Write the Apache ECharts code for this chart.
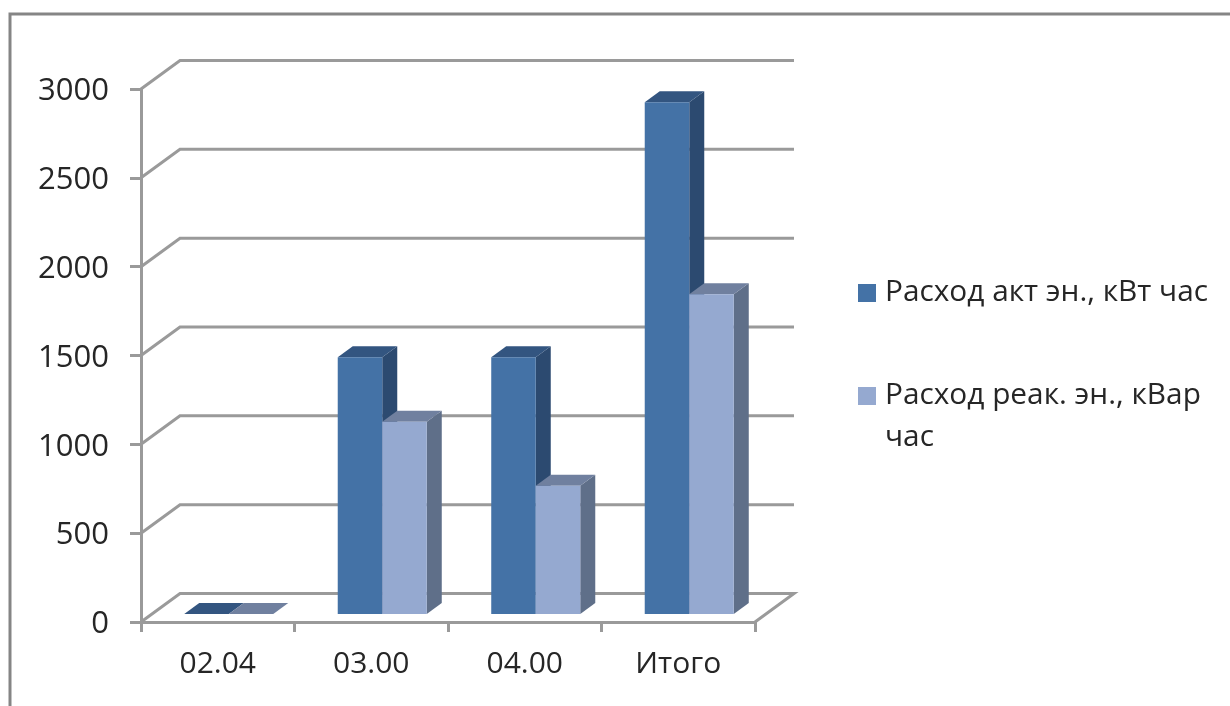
<!DOCTYPE html>
<html>
<head>
<meta charset="utf-8">
<title>Расход энергии</title>
<style>
html, body { margin: 0; padding: 0; background: #fff; }
#chart { width: 1230px; height: 706px; }
</style>
<script src="https://cdn.jsdelivr.net/npm/echarts@6/dist/echarts.min.js"></script>
</head>
<body>
<div id="chart"></div>
<script>
var categories = ['02.04', '03.00', '04.00', 'Итого'];
var yTicks = [0, 500, 1000, 1500, 2000, 2500, 3000];
var seriesNames = ['Расход акт эн., кВт час', 'Расход реак. эн., кВар час'];
var activeValues = [0, 1445, 1445, 2880];
var reactiveValues = [0, 1082, 722, 1800];

var FONT = '"Open Sans", sans-serif';
var TEXT = '#262626';
var LINE = '#9a9a9a';

// псевдо-3D: сдвиги граней в пикселях
var wallDx = 39, wallDy = 28.5;
var baseDx = 11, baseDy = 8;
var depthDx = 15, depthDy = 11;
var barPart = 0.29; // ширина столбика в долях категории

function wallItem(params, api) {
    var box = params.coordSys;
    var y = api.coord([0, api.value(1)])[1];
    var left = box.x, right = box.x + box.width;
    var pts = [[left, y], [left + wallDx, y - wallDy], [right + wallDx, y - wallDy]];
    if (params.dataIndex === 0) pts.push([right, y]);
    return {
        type: 'polyline',
        shape: { points: pts },
        style: { fill: null, stroke: LINE, lineWidth: 3 }
    };
}

function barRender(slot, front, top, side) {
    return function (params, api) {
        var w = api.size([1, 0])[0] * barPart;
        var p = api.coord([api.value(0), api.value(1)]);
        var x0 = p[0] + baseDx + slot * w;
        var x1 = x0 + w;
        var yTop = p[1] - baseDy;
        var yBase = api.coord([api.value(0), 0])[1] - baseDy;
        return {
            type: 'group',
            children: [
                {
                    type: 'polygon',
                    shape: { points: [[x1, yTop], [x1 + depthDx, yTop - depthDy], [x1 + depthDx, yBase - depthDy], [x1, yBase]] },
                    style: { fill: side }
                },
                {
                    type: 'polygon',
                    shape: { points: [[x0, yTop], [x0 + depthDx, yTop - depthDy], [x1 + depthDx, yTop - depthDy], [x1, yTop]] },
                    style: { fill: top }
                },
                {
                    type: 'rect',
                    shape: { x: x0, y: yTop, width: w, height: yBase - yTop },
                    style: { fill: front }
                }
            ]
        };
    };
}

function pairs(values) {
    return values.map(function (v, i) { return [i, v]; });
}

var chart = echarts.init(document.getElementById('chart'), null, { renderer: 'canvas' });
chart.setOption({
    backgroundColor: '#ffffff',
    animation: false,
    grid: { left: 141, right: 475, top: 89, bottom: 84 },
    graphic: [{
        type: 'polyline',
        silent: true,
        shape: { points: [[10, 706], [10, 14], [1230, 14]] },
        style: { fill: null, stroke: '#858585', lineWidth: 3 }
    }],
    legend: {
        left: 858,
        top: 271,
        padding: 0,
        orient: 'vertical',
        itemWidth: 18,
        itemHeight: 18,
        itemGap: 17,
        icon: 'rect',
        data: seriesNames,
        // пустая первая строка, чтобы маркер стоял напротив первой строки подписи
        formatter: function (name) {
            return name === seriesNames[1] ? '\nРасход реак. эн., кВар\nчас' : name;
        },
        textStyle: { fontFamily: FONT, fontSize: 29.8, color: TEXT, lineHeight: 42, padding: [2, 0, 0, 4] }
    },
    xAxis: {
        type: 'category',
        data: categories,
        boundaryGap: true,
        axisLine: { lineStyle: { color: LINE, width: 3 } },
        axisTick: { show: true, alignWithLabel: false, length: 10, lineStyle: { color: LINE, width: 3 } },
        axisLabel: { fontFamily: FONT, fontSize: 30, color: TEXT, margin: 27 }
    },
    yAxis: {
        type: 'value',
        min: 0,
        max: 3000,
        interval: 500,
        axisLine: { show: true, lineStyle: { color: LINE, width: 3 } },
        axisTick: { show: true, length: 11, lineStyle: { color: LINE, width: 3 } },
        splitLine: { show: false },
        axisLabel: {
            margin: 32,
            formatter: function (v) { return '{t|' + v + '}'; },
            rich: { t: { fontFamily: FONT, fontSize: 31, color: TEXT, padding: [5, 0, 0, 0] } }
        }
    },
    series: [
        {
            name: 'wall',
            type: 'custom',
            silent: true,
            z: 1,
            clip: false,
            renderItem: wallItem,
            data: yTicks.map(function (v) { return [0, v]; })
        },
        {
            name: seriesNames[0],
            type: 'custom',
            z: 2,
            clip: false,
            itemStyle: { color: '#4472a6' },
            renderItem: barRender(-1, '#4472a6', '#335580', '#2c4a70'),
            encode: { x: 0, y: 1 },
            data: pairs(activeValues)
        },
        {
            name: seriesNames[1],
            type: 'custom',
            z: 3,
            clip: false,
            itemStyle: { color: '#95a9d0' },
            renderItem: barRender(0, '#95a9d0', '#70809f', '#5f6f89'),
            encode: { x: 0, y: 1 },
            data: pairs(reactiveValues)
        }
    ]
});
</script>
</body>
</html>
